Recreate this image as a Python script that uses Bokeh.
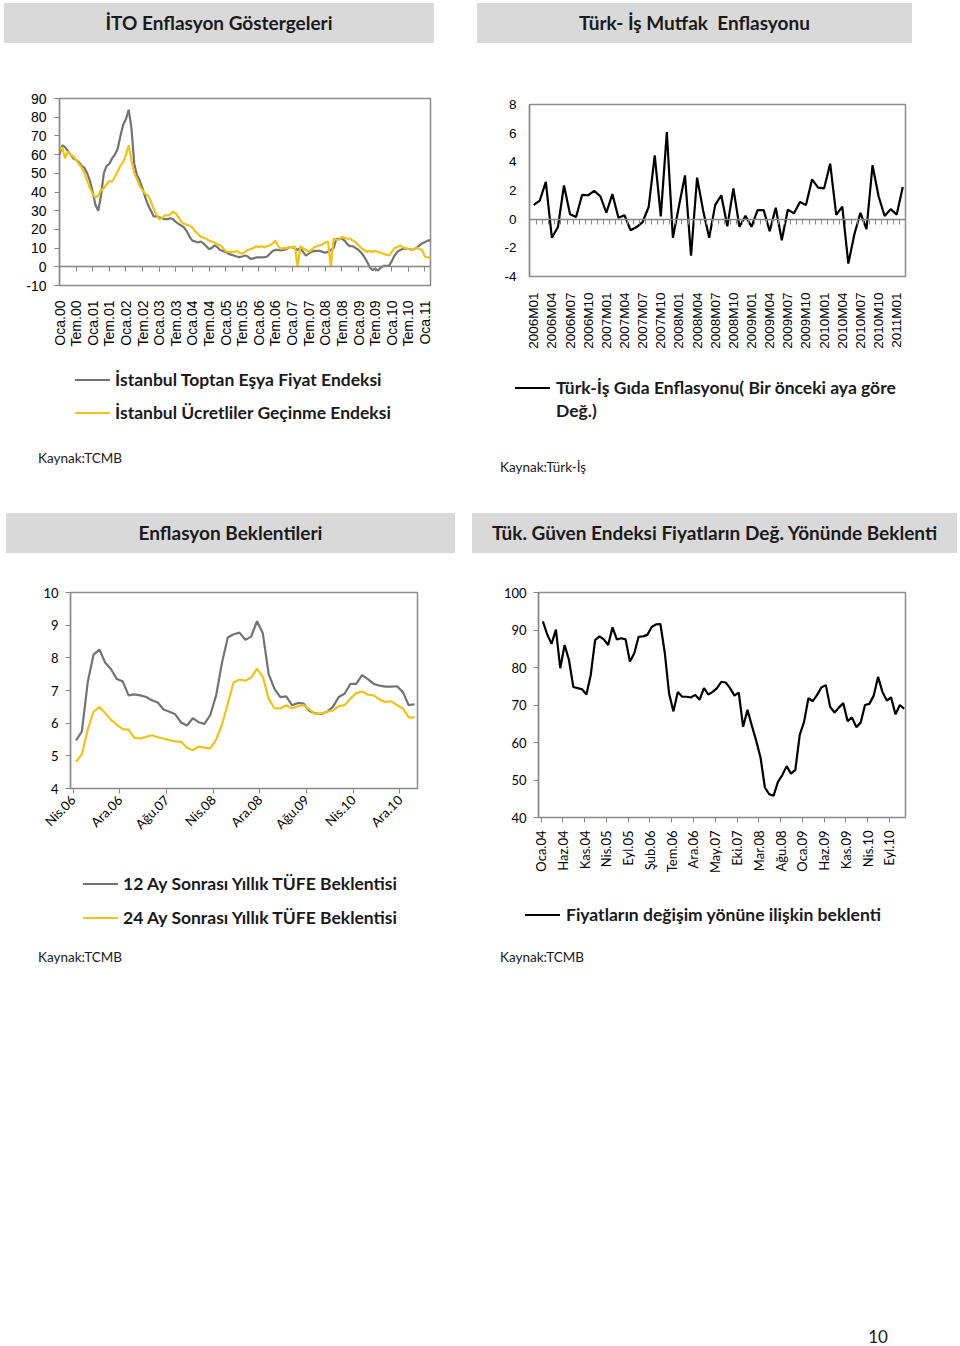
import math
from bokeh.plotting import figure
from bokeh.models import LinearAxis, FixedTicker, Range1d, Div
from bokeh.layouts import column, row
from bokeh.embed import file_html
from bokeh.resources import INLINE

# ------------------------------------------------------------------ data
ito_tick_labels = ["Oca.00", "Tem.00", "Oca.01", "Tem.01", "Oca.02", "Tem.02", "Oca.03",
                   "Tem.03", "Oca.04", "Tem.04", "Oca.05", "Tem.05", "Oca.06", "Tem.06",
                   "Oca.07", "Tem.07", "Oca.08", "Tem.08", "Oca.09", "Tem.09", "Oca.10",
                   "Tem.10", "Oca.11"]
ito_toptan = [60, 65, 64, 62, 60, 58, 57, 56, 54, 53,
              50, 46, 40, 33, 30, 38, 50, 54, 55, 58,
              60, 63, 70, 76, 79, 84, 74, 55, 49, 46,
              42, 37, 33, 30, 27, 27, 26.5, 26, 25.5, 25.5,
              26, 25.5, 24, 23, 22, 21, 19, 16, 14, 13.5,
              13, 13.5, 12.5, 11, 9.5, 10, 11.5, 10.5, 9, 8.5,
              8, 7, 6.5, 6, 5.5, 5.2, 5.5, 6, 5.5, 4.2,
              4.5, 5, 5, 5, 5.2, 5.5, 7, 8.5, 9, 9,
              8.8, 9, 9.5, 10.5, 10.5, 10, 9, 10, 8, 6,
              7, 8, 8.5, 8.5, 8.5, 8, 7.5, 8, 9, 10,
              15, 15, 15, 14, 12, 11, 11, 10, 9, 7.5,
              5.5, 3, 0, -1.8, -1, -2, -0.5, 0.5, 0.5, 0.5,
              3, 6, 8, 9, 9.5, 9.8, 9.5, 9.2, 9.4, 10,
              11.5, 12.5, 13.2, 14, 14.3]
ito_ucretli = [62, 64, 58, 61.5, 60, 59, 57, 55, 53, 50,
               46, 42, 39, 37, 38, 41, 42, 44, 46, 45.5,
               48, 51, 54, 56, 60, 65, 57, 50, 47, 43,
               41, 39, 38, 35, 31, 28, 25.5, 26, 27.5, 27.5,
               28, 29.5, 28.5, 26.5, 24, 23, 22.5, 22, 21, 19,
               17.5, 16, 15.5, 15, 14, 13.5, 13, 12, 11.5, 10,
               8.5, 8, 8, 8, 8.5, 7.5, 7, 8, 9, 9.5,
               10, 11, 10.5, 11, 10.5, 11, 11.5, 12.5, 14, 11,
               9.5, 10, 10, 10.5, 10.5, 11, 0, 11, 10, 9,
               8, 9, 10.5, 11, 11.5, 12, 13, 13.5, 0, 15,
               14.5, 14.5, 16, 15.5, 15, 15, 14, 13, 11.5, 10,
               9, 8, 8.5, 8, 8.5, 8, 7.5, 7, 6.5, 6,
               8, 10, 10.5, 11.5, 10.5, 10, 9.5, 9, 9.5, 10,
               9.5, 9, 5.5, 5, 5]

turkis_tick_labels = ["2006M01", "2006M04", "2006M07", "2006M10", "2007M01", "2007M04",
                      "2007M07", "2007M10", "2008M01", "2008M04", "2008M07", "2008M10",
                      "2009M01", "2009M04", "2009M07", "2009M10", "2010M01", "2010M04",
                      "2010M07", "2010M10", "2011M01"]
turkis_gida = [1.0, 1.3, 2.6, -1.3, -0.55, 2.35, 0.35, 0.15, 1.7, 1.67,
               1.97, 1.6, 0.45, 1.75, 0.1, 0.28, -0.77, -0.55, -0.2, 0.85,
               4.45, 0.2, 6.08, -1.3, 0.9, 3.05, -2.55, 2.9, 0.6, -1.3,
               1.0, 1.67, -0.5, 2.15, -0.53, 0.23, -0.53, 0.63, 0.63, -0.84,
               0.8, -1.47, 0.67, 0.4, 1.2, 0.98, 2.77, 2.2, 2.15, 3.87,
               0.3, 0.88, -3.1, -1.05, 0.44, -0.7, 3.76, 1.6, 0.22, 0.7,
               0.32, 2.25]

bek_tick_labels = ["Nis.06", "Ara.06", "Ağu.07", "Nis.08", "Ara.08", "Ağu.09", "Nis.10", "Ara.10"]
bek_12ay = [5.47, 5.75, 7.25, 8.1, 8.25, 7.85, 7.65, 7.35, 7.28, 6.85,
            6.88, 6.85, 6.8, 6.7, 6.63, 6.42, 6.35, 6.27, 6.02, 5.93,
            6.15, 6.03, 5.98, 6.25, 6.85, 7.85, 8.62, 8.72, 8.77, 8.55,
            8.65, 9.12, 8.75, 7.5, 7.05, 6.8, 6.82, 6.55, 6.62, 6.6,
            6.37, 6.3, 6.28, 6.35, 6.5, 6.8, 6.9, 7.2, 7.2, 7.47,
            7.35, 7.2, 7.15, 7.12, 7.12, 7.13, 6.95, 6.55, 6.58]
bek_24ay = [4.82, 5.05, 5.8, 6.35, 6.5, 6.3, 6.1, 5.95, 5.82, 5.8,
            5.55, 5.53, 5.58, 5.63, 5.57, 5.53, 5.48, 5.44, 5.43, 5.25,
            5.17, 5.28, 5.25, 5.23, 5.5, 5.95, 6.6, 7.25, 7.33, 7.3,
            7.4, 7.67, 7.42, 6.75, 6.45, 6.45, 6.55, 6.45, 6.52, 6.55,
            6.42, 6.28, 6.3, 6.35, 6.38, 6.52, 6.55, 6.75, 6.92, 6.97,
            6.87, 6.85, 6.72, 6.65, 6.67, 6.55, 6.45, 6.18, 6.18]

guven_tick_labels = ["Oca.04", "Haz.04", "Kas.04", "Nis.05", "Eyl.05", "Şub.06", "Tem.06",
                     "Ara.06", "May.07", "Eki.07", "Mar.08", "Ağu.08", "Oca.09", "Haz.09",
                     "Kas.09", "Nis.10", "Eyl.10"]
guven_fiyat = [92.3, 88.8, 86.3, 90.1, 79.8, 86.0, 82.0, 74.8, 74.5, 74.2,
               72.8, 78.0, 87.3, 88.3, 87.5, 86.0, 90.7, 87.5, 87.8, 87.5,
               81.6, 83.8, 88.2, 88.3, 88.7, 90.8, 91.5, 91.6, 84.0, 73.0,
               68.3, 73.5, 72.2, 72.2, 72.0, 72.7, 71.4, 74.5, 72.8, 73.5,
               74.5, 76.2, 76.0, 74.5, 72.5, 73.3, 64.2, 68.7, 64.5, 60.5,
               56.0, 48.0, 46.2, 45.8, 49.5, 51.3, 53.7, 51.7, 52.7, 62.0,
               65.5, 71.8, 71.0, 72.7, 74.7, 75.3, 69.5, 68.0, 69.3, 70.5,
               65.7, 66.7, 64.1, 65.3, 70.0, 70.3, 72.5, 77.5, 73.5, 71.2,
               72.0, 67.5, 70.0, 69.0]

# ------------------------------------------------------------------ style
GRAY_LINE = "#737373"
GOLD_LINE = "#f0c21a"
AXIS_GRAY = "#868686"
TXT = "#1a1a1a"
HDR_FILL = "#d9d9d9"
LATO = "Lato"
ARIAL = "Liberation Sans"


def make_fig(w, h, L, R, T, B, xr, yr):
    p = figure(width=w, height=h, x_range=xr, y_range=yr,
               output_backend="svg", toolbar_location=None,
               min_border_left=L, min_border_right=R,
               min_border_top=T, min_border_bottom=B, margin=0)
    p.frame_align = False
    p.grid.visible = False
    p.outline_line_color = "#8c8c8c"
    p.outline_line_width = 1.5
    p.background_fill_color = "white"
    p.border_fill_color = "white"
    return p


def style_y(p, ticks, font, size, tick_out, standoff):
    ax = p.yaxis[0]
    ax.ticker = FixedTicker(ticks=ticks)
    ax.major_label_overrides = {t: str(t) for t in ticks}
    ax.major_tick_out = tick_out
    ax.major_tick_in = 0
    ax.minor_tick_line_color = None
    ax.axis_line_color = AXIS_GRAY
    ax.axis_line_width = 1.3
    ax.major_tick_line_color = AXIS_GRAY
    ax.major_label_text_font = font
    ax.major_label_text_font_size = size
    ax.major_label_text_color = "#000000"
    ax.major_label_standoff = standoff


def style_x(p, positions, labels, font, size, angle, tick_out, standoff):
    ax = p.xaxis[0]
    ax.ticker = FixedTicker(ticks=positions)
    ax.major_label_overrides = {pos: lab for pos, lab in zip(positions, labels)}
    ax.major_label_orientation = angle
    ax.major_tick_out = tick_out
    ax.major_tick_in = 0
    ax.minor_tick_line_color = None
    ax.axis_line_color = AXIS_GRAY if tick_out else None
    ax.major_tick_line_color = AXIS_GRAY
    ax.major_label_text_font = font
    ax.major_label_text_font_size = size
    ax.major_label_text_color = "#000000"
    ax.major_label_standoff = standoff


def zero_axis(p, ticks):
    # horizontal axis line drawn at y = 0, ticks pointing down, no labels
    ax = LinearAxis(fixed_location=0, ticker=FixedTicker(ticks=ticks),
                    major_label_overrides={t: "" for t in ticks},
                    major_label_text_font_size="0px",
                    major_tick_out=5, major_tick_in=0, major_label_standoff=0,
                    axis_line_color=AXIS_GRAY, axis_line_width=1.3,
                    major_tick_line_color=AXIS_GRAY, minor_tick_line_color=None)
    p.add_layout(ax, "below")


# ------------------------------------------------------------------ html helpers
def header_div(width, height, box_left, box_top, box_width, text):
    html = (f'<div style="position:relative;width:{width}px;height:{height}px;">'
            f'<div style="position:absolute;left:{box_left}px;top:{box_top}px;width:{box_width}px;'
            f'height:{height - box_top}px;background:{HDR_FILL};display:flex;align-items:center;'
            f'justify-content:center;font-family:Lato;font-weight:bold;font-size:19px;'
            f'color:{TXT};white-space:pre;">{text}</div></div>')
    return Div(text=html, width=width, height=height, margin=0)


def swatch(left, cy, color):
    return (f'<div style="position:absolute;left:{left}px;top:{cy - 1}px;width:35px;'
            f'height:2px;background:{color};"></div>')


def label(left, cy, text, size, bold, lh=24):
    weight = "bold" if bold else "normal"
    return (f'<div style="position:absolute;left:{left}px;top:{cy - lh // 2}px;'
            f'line-height:{lh}px;white-space:nowrap;font-family:Lato;font-size:{size}px;'
            f'font-weight:{weight};color:{TXT};">{text}</div>')


def box_div(width, height, parts):
    html = (f'<div style="position:relative;width:{width}px;height:{height}px;">'
            + "".join(parts) + '</div>')
    return Div(text=html, width=width, height=height, margin=0)


# ------------------------------------------------------------------ chart A: ITO
nA = len(ito_toptan)
pA = make_fig(472, 322, 59, 42, 55, 80, Range1d(0, nA - 1), Range1d(-10, 90))
style_y(pA, list(range(-10, 91, 10)), ARIAL, "14px", 5, 8)
posA = [6 * k for k in range(len(ito_tick_labels))]
style_x(pA, posA, ito_tick_labels, ARIAL, "14px", math.pi / 2, 0, 15)
zero_axis(pA, posA)
xA = list(range(nA))
pA.line(xA, ito_toptan, line_color=GRAY_LINE, line_width=2.2)
pA.line(xA, ito_ucretli, line_color=GOLD_LINE, line_width=2.2)

# ------------------------------------------------------------------ chart B: Türk-İş
nB = len(turkis_gida)
pB = make_fig(488, 329, 57, 55, 61, 96, Range1d(-0.7, nB - 0.55), Range1d(-4, 8))
style_y(pB, list(range(-4, 9, 2)), ARIAL, "13.5px", 0, 13)
posB = [3 * k for k in range(len(turkis_tick_labels))]
style_x(pB, posB, turkis_tick_labels, ARIAL, "13.5px", math.pi / 2, 0, 16)
zero_axis(pB, [i + 0.5 for i in range(nB - 1)])
pB.line(list(range(nB)), turkis_gida, line_color="#000000", line_width=2.2)

# ------------------------------------------------------------------ chart C: Beklentiler
nC = len(bek_12ay)
pC = make_fig(472, 317, 70, 55, 39, 82, Range1d(-0.45, nC), Range1d(4, 10))
style_y(pC, list(range(4, 11)), LATO, "13px", 5, 7)
posC = [8 * k for k in range(len(bek_tick_labels))]
style_x(pC, posC, bek_tick_labels, LATO, "13px", math.pi / 4, 5, 4)
xC = [m + 0.5 for m in range(nC)]
pC.line(xC, bek_12ay, line_color=GRAY_LINE, line_width=2.2)
pC.line(xC, bek_24ay, line_color=GOLD_LINE, line_width=2.2)

# ------------------------------------------------------------------ chart D: Güven
nD = len(guven_fiyat)
pD = make_fig(488, 342, 66, 55, 39, 78, Range1d(-0.6, nD - 0.3), Range1d(40, 100))
style_y(pD, list(range(40, 101, 10)), LATO, "13px", 5, 7)
posD = [5 * k for k in range(len(guven_tick_labels))]
style_x(pD, posD, guven_tick_labels, LATO, "13px", math.pi / 2, 5, 8)
pD.line([i + 0.4 for i in range(nD)], guven_fiyat, line_color="#000000", line_width=2.2)

# ------------------------------------------------------------------ text blocks
hA = header_div(472, 43, 4, 3, 430, "İTO Enflasyon Göstergeleri")
hB = header_div(488, 43, 5, 3, 435, "Türk- İş Mutfak  Enflasyonu")
hC = header_div(472, 40, 6, 0, 449, "Enflasyon Beklentileri")
hD = header_div(488, 40, 0, 0, 485, "Tük. Güven Endeksi Fiyatların Değ. Yönünde Beklenti")

legA = box_div(472, 148, [
    swatch(75, 15, GRAY_LINE), label(115, 15, "İstanbul Toptan Eşya Fiyat Endeksi", 17.5, True),
    swatch(75, 48, GOLD_LINE), label(115, 48, "İstanbul Ücretliler Geçinme Endeksi", 17.5, True),
    label(38, 93, "Kaynak:TCMB", 13.5, False),
])
legB = box_div(488, 141, [
    swatch(43, 16, "#000000"),
    label(84, 16, "Türk-İş Gıda Enflasyonu( Bir önceki aya göre", 17.5, True),
    label(84, 39, "Değ.)", 17.5, True),
    label(28, 95, "Kaynak:Türk-İş", 13.5, False),
])
legC = box_div(472, 130, [
    swatch(83, 14, GRAY_LINE), label(123, 14, "12 Ay Sonrası Yıllık TÜFE Beklentisi", 17.5, True),
    swatch(83, 48, GOLD_LINE), label(123, 48, "24 Ay Sonrası Yıllık TÜFE Beklentisi", 17.5, True),
    label(38, 87, "Kaynak:TCMB", 13.5, False),
])
legD = box_div(488, 105, [
    swatch(53, 20, "#000000"),
    label(94, 20, "Fiyatların değişim yönüne ilişkin beklenti", 17.5, True),
    label(28, 62, "Kaynak:TCMB", 13.5, False),
])
pageno = box_div(488, 346, [
    f'<div style="position:absolute;left:396px;top:328px;width:20px;text-align:center;'
    f'line-height:18px;font-family:Lato;font-size:17px;color:{TXT};">10</div>'
])

left_col = column(hA, pA, legA, hC, pC, legC, margin=0, spacing=0)
right_col = column(hB, pB, legB, hD, pD, legD, pageno, margin=0, spacing=0)
layout = row(left_col, right_col, margin=0, spacing=0)

open("out.html", "w").write(file_html(layout, INLINE))
